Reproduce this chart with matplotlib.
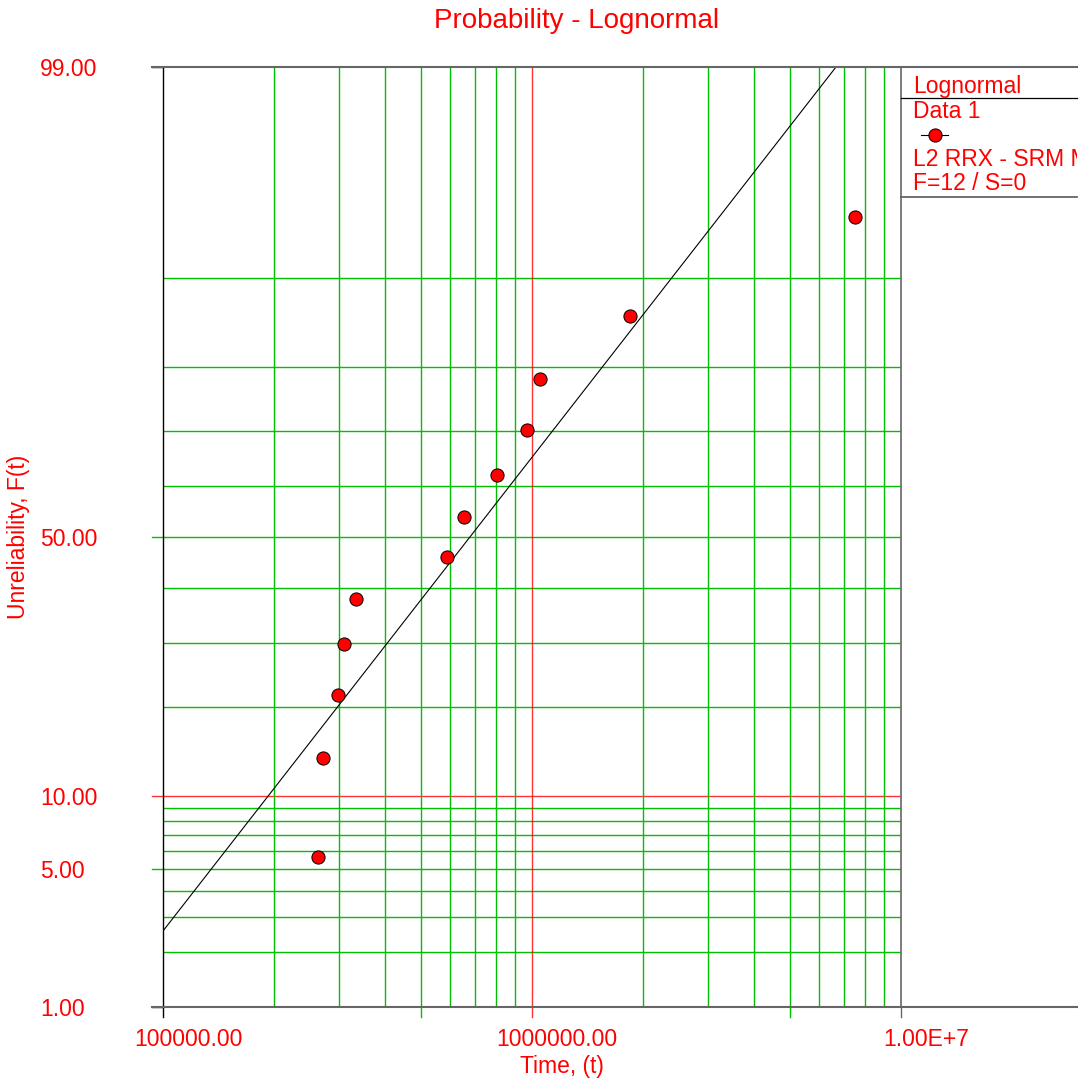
import numpy as np
import matplotlib
matplotlib.use('Agg')
import matplotlib.pyplot as plt
from matplotlib.lines import Line2D
from matplotlib.ticker import NullLocator, FixedLocator
from matplotlib.transforms import Bbox, TransformedBbox, ScaledTranslation, blended_transform_factory
from statistics import NormalDist

plt.rcParams['font.family'] = ['Liberation Sans', 'DejaVu Sans']

# ---------------- data ----------------
failure_times = [2.63e5, 2.71e5, 2.98e5, 3.09e5, 3.34e5, 5.89e5,
                 6.54e5, 8.04e5, 9.69e5, 1.05e6, 1.84e6, 7.50e6]
unreliability_pct = [5.65, 13.71, 21.77, 29.84, 37.90, 45.97,
                     54.03, 62.10, 70.16, 78.23, 86.29, 94.35]
fit_mu_ln = 13.428
fit_sigma_ln = 0.982

y_major_ticks = [1, 5, 10, 50, 99]
y_tick_labels = ['1.00', '5.00', '10.00', '50.00', '99.00']
y_grid = [2, 3, 4, 5, 6, 7, 8, 9, 20, 30, 40, 50, 60, 70, 80, 90]
y_red_grid = [10]

x_major_ticks = [1e5, 5e5, 1e6, 5e6, 1e7]
x_tick_labels = ['100000.00', '', '1000000.00', '', '1.00E+7']
x_grid = [2e5, 3e5, 4e5, 5e5, 6e5, 7e5, 8e5, 9e5,
          2e6, 3e6, 4e6, 5e6, 6e6, 7e6, 8e6, 9e6]
x_red_grid = [1e6]

title = 'Probability - Lognormal'
x_label = 'Time, (t)'
y_label = 'Unreliability, F(t)'
legend_title = 'Lognormal'
legend_series = 'Data 1'
legend_info = ['L2 RRX - SRM MED', 'F=12 / S=0']

# ---------------- style ----------------
RED = '#ff0000'
GREEN = '#00c000'
GRAY = '#666666'
W, H = 1082, 1084
FS = 16.5

ND = NormalDist()
_ppf = np.vectorize(lambda v: ND.inv_cdf(v / 100.0), otypes=[float])
_cdf = np.vectorize(lambda z: ND.cdf(z) * 100.0, otypes=[float])


def fwd(p):
    p = np.clip(np.asarray(p, dtype=float), 1e-7, 100 - 1e-7)
    return _ppf(p)


def inv(z):
    return _cdf(np.asarray(z, dtype=float))


fig = plt.figure(figsize=(W / 100, H / 100), dpi=100)
fx = lambda px: px / W
fy = lambda py: 1 - py / H

ax_left, ax_right, ax_top, ax_bot = 163, 901, 67, 1007
ax = fig.add_axes([fx(ax_left), fy(ax_bot), fx(ax_right) - fx(ax_left), fy(ax_top) - fy(ax_bot)])
ax.set_xscale('log')
ax.set_yscale('function', functions=(fwd, inv))
ax.set_xlim(1e5, 1e7)
ax.set_ylim(1, 99)

# grid
for yv in y_grid:
    ax.axhline(yv, color=GREEN, lw=1.0, zorder=1)
for yv in y_red_grid:
    ax.axhline(yv, color=RED, lw=1.0, alpha=0.8, zorder=1)
for xv in x_grid:
    ax.axvline(xv, color=GREEN, lw=1.0, zorder=1)
for xv in x_red_grid:
    ax.axvline(xv, color=RED, lw=1.0, alpha=0.8, zorder=1)

# tick extensions (drawn as short lines outside the axes)
aw = ax_right - ax_left
ah = ax_bot - ax_top
ty = blended_transform_factory(ax.transAxes, ax.transData)
tx = blended_transform_factory(ax.transData, ax.transAxes)
ycol = {1: 'black', 5: GREEN, 10: RED, 50: GREEN, 99: 'black'}
for v in y_major_ticks:
    ax.plot([-11 / aw, 0], [v, v], transform=ty, color=ycol[v], lw=1.0,
            clip_on=False, alpha=0.8 if v == 10 else 1.0)
xcol = {1e5: 'black', 5e5: GREEN, 1e6: RED, 5e6: GREEN, 1e7: GRAY}
for v in x_major_ticks:
    ax.plot([v, v], [-10 / ah, 0], transform=tx, color=xcol[v], lw=1.0,
            clip_on=False, alpha=0.8 if v == 1e6 else 1.0)

# fit line
t_fit = np.logspace(5, 7, 400)
F_fit = np.array([ND.cdf((np.log(t) - fit_mu_ln) / fit_sigma_ln) * 100 for t in t_fit])
ax.plot(t_fit, F_fit, color='black', lw=0.8, zorder=3)

# data points
ax.plot(failure_times, unreliability_pct, linestyle='none', marker='o',
        markersize=9.5, markerfacecolor=RED, markeredgecolor='black',
        markeredgewidth=0.7, zorder=4)

# ticks
ax.yaxis.set_major_locator(FixedLocator(y_major_ticks))
ax.yaxis.set_minor_locator(NullLocator())
ax.set_yticklabels(y_tick_labels)
ax.xaxis.set_major_locator(FixedLocator(x_major_ticks))
ax.xaxis.set_minor_locator(NullLocator())
ax.set_xticklabels(x_tick_labels)

ax.tick_params(axis='y', length=0, pad=(163 - 40) * 0.72,
               labelsize=FS, labelcolor=RED)
ax.tick_params(axis='x', length=0, pad=8 + 7.2,
               labelsize=FS, labelcolor=RED)
for lbl in ax.get_yticklabels():
    lbl.set_horizontalalignment('left')
for lbl in ax.get_xticklabels():
    lbl.set_transform(lbl.get_transform() + ScaledTranslation(0.25, 0, fig.dpi_scale_trans))

# spines
ax.spines['left'].set_color('black')
ax.spines['left'].set_linewidth(1.0)
ax.spines['right'].set_color(GRAY)
ax.spines['right'].set_linewidth(1.2)
ax.spines['top'].set_visible(False)
ax.spines['bottom'].set_visible(False)

# extended top/bottom frame lines
for py in (67, 1007):
    fig.add_artist(Line2D([fx(152), fx(1077)], [fy(py), fy(py)],
                          color=GRAY, lw=1.5, zorder=5))

# legend box
fig.add_artist(Line2D([fx(901), fx(1077)], [fy(98), fy(98)], color='black', lw=0.9))
fig.add_artist(Line2D([fx(901), fx(1077)], [fy(197), fy(197)], color=GRAY, lw=1.3))
fig.text(fx(913), fy(86), legend_title, color=RED, fontsize=FS, ha='left', va='center')
fig.text(fx(913), fy(112), legend_series, color=RED, fontsize=FS, ha='left', va='center')
fig.add_artist(Line2D([fx(921), fx(948)], [fy(135), fy(135)], color='black', lw=0.8))
fig.add_artist(Line2D([fx(934.5)], [fy(135)], linestyle='none', marker='o',
                      markersize=9.5, markerfacecolor=RED, markeredgecolor='black',
                      markeredgewidth=0.7))
clip = TransformedBbox(Bbox([[fx(901), 0], [fx(1077), 1]]), fig.transFigure)
for txt, py in zip(legend_info, (160, 183)):
    t = fig.text(fx(913), fy(py), txt, color=RED, fontsize=FS, ha='left', va='center')
    t.set_clip_box(clip)
    t.set_clip_on(True)

# titles
fig.text(fx(577), fy(21), title, color=RED, fontsize=20, ha='center', va='center')
fig.text(fx(562), fy(1067), x_label, color=RED, fontsize=FS, ha='center', va='center')
fig.text(fx(19), fy(537), y_label, color=RED, fontsize=FS, ha='center', va='center',
         rotation=90)

fig.savefig('out.png', dpi=100)
